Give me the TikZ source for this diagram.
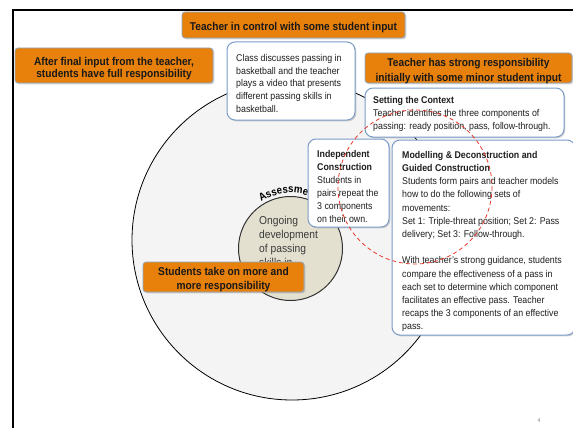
\documentclass[tikz,border=0pt]{standalone}
\usepackage{fontspec}
\setmainfont{Liberation Sans}[FakeStretch=0.9]
\usetikzlibrary{shadows,decorations.text}
\definecolor{myorange}{HTML}{E8800C}
\definecolor{orangeedge}{HTML}{8FA8C4}
\definecolor{boxblue}{HTML}{7B9CC8}
\definecolor{bigfill}{HTML}{F4F4F4}
\definecolor{beige}{HTML}{E3E0D0}
\definecolor{dashred}{HTML}{E8392B}
\definecolor{txtgray}{HTML}{1E1E1E}
\definecolor{circtxt}{HTML}{3A3A3A}
\begin{document}
\begin{tikzpicture}[x=1pt,y=-1pt,
  myshadow/.style={drop shadow={shadow xshift=1.3pt,shadow yshift=-1.3pt,opacity=0.35}},
  orangebox/.style={draw=orangeedge,line width=0.8pt,fill=myorange,rounded corners=3pt,myshadow,anchor=north west,inner sep=0pt,outer sep=0pt},
  whitebox/.style={draw=boxblue,line width=1pt,fill=white,rounded corners=8pt,myshadow,anchor=north west,inner sep=0pt,outer sep=0pt},
  orangetext/.style={text=black!90,align=center,inner sep=0pt,anchor=north},
  boxtext/.style={font=\fontsize{9.8}{13}\selectfont,text=txtgray,align=left,inner sep=0pt,anchor=north west},
]
\useasboundingbox (0,0) rectangle (573,428);
% slide frame
\draw[line width=1.5pt] (13,428) -- (13,10) -- (573,10);
% circles
\draw[line width=0.8pt,fill=bigfill] (292,240) circle[radius=160];
\draw[line width=1pt,draw=black!80,fill=beige] (290.5,248.5) circle[radius=52];
\node[font=\fontsize{11.4}{14}\selectfont,text=circtxt,align=left,inner sep=0pt,anchor=north west] (ongoing) at (259,215.8) {Ongoing\\development\\of passing\\skills in};
\path[decorate,decoration={text along path,text={|\fontsize{10.8}{12}\selectfont\bfseries|Assessment},text align=left}]
  (290.5,248.5) ++(-122:55.5) arc[start angle=-122,end angle=-20,radius=55.5];
% white boxes
\node[whitebox,minimum width=128,minimum height=78] (cls) at (227,42) {};
\node[boxtext,font=\fontsize{9.8}{12.8}\selectfont] (clstxt) at (236,54) {Class discusses passing in\\basketball and the teacher\\plays a video that presents\\different passing skills in\\basketball.};
\node[whitebox,minimum width=199,minimum height=49] (ctx) at (365,88) {};
\node[boxtext] (ctxtxt) at (373,96.4) {\textbf{Setting the Context}\\Teacher identifies the three components of\\passing: ready position, pass, follow-through.};
\node[whitebox,minimum width=183,minimum height=195] (mod) at (392,140) {};
\node[boxtext,font=\fontsize{9.8}{13.2}\selectfont] (modtxt) at (402,151) {\textbf{Modelling \& Deconstruction and}\\\textbf{Guided Construction}\\Students form pairs and teacher models\\how to do the following sets of\\movements:\\Set 1: Triple-threat position; Set 2: Pass\\delivery; Set 3: Follow-through.\\[13.2pt]With teacher's strong guidance, students\\compare the effectiveness of a pass in\\each set to determine which component\\facilitates an effective pass. Teacher\\recaps the 3 components of an effective\\pass.};
\node[whitebox,minimum width=81,minimum height=88] (ind) at (308,139) {};
\node[boxtext] (indtxt) at (317,150) {\textbf{Independent}\\\textbf{Construction}\\Students in\\pairs repeat the\\3 components\\on their own.};
% orange boxes
\node[orangebox,minimum width=223,minimum height=26] (o1) at (182,12) {};
\node[orangetext,font=\fontsize{11.3}{12.5}\selectfont\bfseries] (o1txt) at (293.5,21.8) {Teacher in control with some student input};
\node[orangebox,minimum width=198,minimum height=35] (o2) at (15,48) {};
\node[orangetext,font=\fontsize{11.3}{12.5}\selectfont\bfseries] (o2txt) at (114,56.8) {After final input from the teacher,\\students have full responsibility};
\node[orangebox,minimum width=207,minimum height=30] (o3) at (365,53) {};
\node[orangetext,font=\fontsize{11.3}{15}\selectfont\bfseries] (o3txt) at (468.5,58.5) {Teacher has strong responsibility\\initially with some minor student input};
\node[orangebox,minimum width=161,minimum height=30] (o4) at (143,262) {};
\node[orangetext,font=\fontsize{11.3}{14}\selectfont\bfseries] (o4txt) at (223.5,266.8) {Students take on more and\\more responsibility};
% dashed red circle
\draw[dashred,line width=0.8pt,dash pattern=on 4pt off 3pt] (415,187) circle[radius=77];
% page number
\node[font=\fontsize{6}{7}\selectfont,text=black!45,inner sep=0pt] (pnum) at (539,420) {4};
\end{tikzpicture}
\end{document}
